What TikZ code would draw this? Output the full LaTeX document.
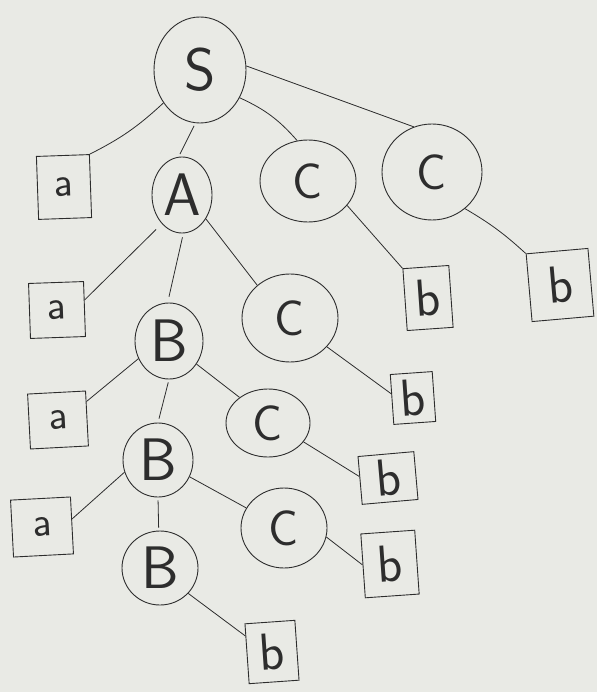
\documentclass[tikz,border=0pt]{standalone}
\usetikzlibrary{shapes.geometric}
\definecolor{paper}{RGB}{233,234,229}
\definecolor{ink}{RGB}{45,45,45}
\begin{document}
\begin{tikzpicture}[x=1pt,y=-1pt,
  nt/.style={ellipse, draw=ink, line width=0.9pt, inner sep=0pt, text=ink,
    font=\sffamily\fontsize{60}{60}\selectfont},
  ntc/.style={nt, font=\sffamily\fontsize{50}{50}\selectfont},
  tm/.style={rectangle, draw=ink, line width=0.9pt, inner sep=0pt, text=ink},
  tma/.style={tm, font=\sffamily\fontsize{42}{42}\selectfont},
  tmb/.style={tm, font=\sffamily\fontsize{52}{52}\selectfont},
  edge/.style={draw=ink, line width=0.8pt}]
\fill[paper] (0,0) rectangle (597,692);
\useasboundingbox (0,0) rectangle (597,692);

% nonterminals
\node[nt, minimum width=92pt, minimum height=106pt] (S) at (200,70) {S};
\node[nt, minimum width=60pt, minimum height=76pt] (A) at (182,195) {A};
\node[ntc, minimum width=96pt, minimum height=82pt] (C1) at (308,181) {C};
\node[ntc, minimum width=100pt, minimum height=96pt] (C2) at (432,172) {C};
\node[nt, minimum width=68pt, minimum height=76pt] (B1) at (169,341) {B};
\node[ntc, minimum width=96pt, minimum height=88pt] (C3) at (290,318) {C};
\node[ntc, minimum width=84pt, minimum height=68pt] (C4) at (268,423) {C};
\node[nt, minimum width=70pt, minimum height=74pt] (B2) at (158,460) {B};
\node[ntc, minimum width=86pt, minimum height=80pt] (C5) at (284,528) {C};
\node[nt, minimum width=76pt, minimum height=74pt] (B3) at (160,568) {B};

% terminals
\node[tma, minimum width=53pt, minimum height=63pt, rotate=2] (a1) at (64,187) {a};
\node[tma, minimum width=55pt, minimum height=55pt, rotate=2] (a2) at (57,310) {a};
\node[tma, minimum width=58pt, minimum height=55pt, rotate=3] (a3) at (58,420) {a};
\node[tma, minimum width=60pt, minimum height=57pt, rotate=3] (a4) at (42,527) {a};
\node[tmb, minimum width=46pt, minimum height=62pt, rotate=4] (b1) at (428,298) {b};
\node[tmb, minimum width=62pt, minimum height=68pt, rotate=5] (b2) at (560,285) {b};
\node[tmb, minimum width=42pt, minimum height=50pt, rotate=4] (b3) at (413,398) {b};
\node[tmb, minimum width=56pt, minimum height=48pt, rotate=5] (b4) at (388,478) {b};
\node[tmb, minimum width=54pt, minimum height=64pt, rotate=4] (b5) at (390,564) {b};
\node[tmb, minimum width=50pt, minimum height=60pt, rotate=4] (b6) at (272,652) {b};

% connectors
\draw[edge] (S.222) to[bend left=8] (a1.north east);
\draw[edge, shorten <=3pt, shorten >=3pt] (S.265) -- (A.95);
\draw[edge] (S.-35) to[bend left=12] (C1.105);
\draw[edge] (S.5) -- (C2.112);
\draw[edge] (C1.-32) -- (b1.north west);
\draw[edge] (C2.-48) to[bend left=6] (b2.north west);

\draw[edge, shorten <=8pt] (A.235) -- (a2.18);
\draw[edge, shorten <=4pt, shorten >=6pt] (A.272) -- (B1.92);
\draw[edge] (A.-45) -- (C3.135);
\draw[edge] (C3.-38) -- (b3.165);

\draw[edge] (B1.210) -- (a3.30);
\draw[edge, shorten <=3pt, shorten >=4pt] (B1.270) -- (B2.90);
\draw[edge] (B1.-40) -- (C4.138);
\draw[edge] (C4.-28) -- (b4.172);

\draw[edge] (B2.200) -- (a4.12);
\draw[edge, shorten <=3pt, shorten >=3pt] (B2.270) -- (B3.92);
\draw[edge] (B2.-28) -- (C5.152);
\draw[edge] (C5.-12) -- (b5.178);

\draw[edge] (B3.-42) -- (b6.145);
\end{tikzpicture}
\end{document}
